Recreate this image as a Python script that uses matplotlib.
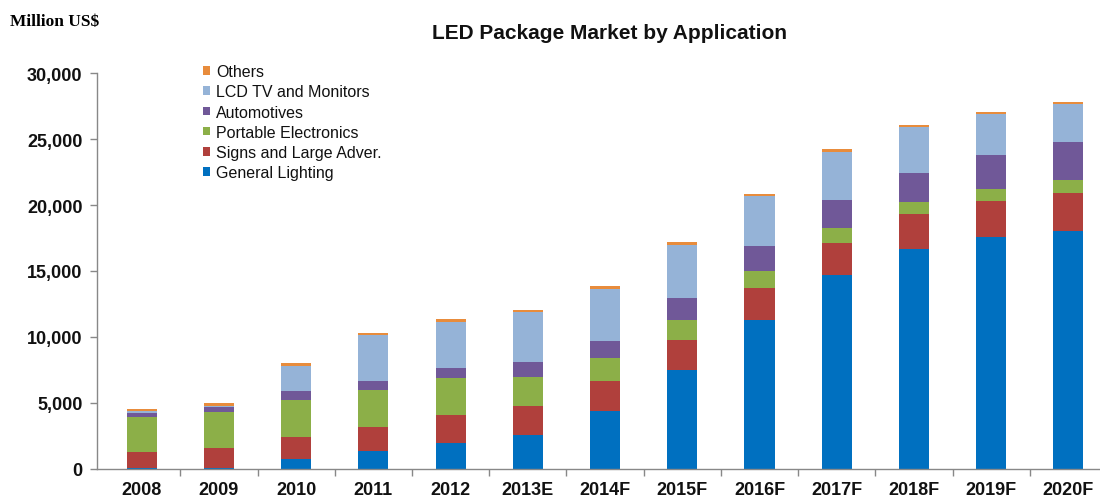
import numpy as np
import matplotlib.pyplot as plt
from matplotlib.patches import Patch
from matplotlib.ticker import FuncFormatter, FixedLocator

# LED package market by application, million US$
years = ['2008', '2009', '2010', '2011', '2012', '2013E', '2014F',
         '2015F', '2016F', '2017F', '2018F', '2019F', '2020F']
generalLighting = [80, 100, 760, 1390, 1970, 2580, 4370, 7520, 11310, 14720, 16670, 17550, 18010]
signsLargeAdver = [1220, 1470, 1690, 1770, 2120, 2170, 2320, 2280, 2380, 2400, 2650, 2730, 2900]
portableElectronics = [2660, 2770, 2800, 2790, 2780, 2190, 1740, 1490, 1280, 1140, 930, 930, 960]
automotives = [280, 330, 640, 680, 810, 1140, 1240, 1640, 1900, 2140, 2200, 2600, 2930]
lcdTvMonitors = [130, 100, 1940, 3490, 3480, 3790, 3970, 4040, 3790, 3590, 3430, 3080, 2850]
others = [150, 210, 200, 150, 180, 160, 200, 200, 200, 230, 200, 180, 180]

seriesNames = ['General Lighting', 'Signs and Large Adver.', 'Portable Electronics',
               'Automotives', 'LCD TV and Monitors', 'Others']
seriesValues = [generalLighting, signsLargeAdver, portableElectronics,
                automotives, lcdTvMonitors, others]
seriesColors = ['#0070c0', '#b0403c', '#8caf48', '#705898', '#95b3d7', '#e88c3c']

# layout constants (figure pixels, 1100 x 502)
figW, figH = 1100, 502
axLeft, axRight = 97, 1100
axBottom, axTop = 470, 74
barWidth = 0.39
tickColor = '#888888'

fig = plt.figure(figsize=(figW / 100, figH / 100), dpi=100)
ax = fig.add_axes([axLeft / figW, 1 - axBottom / figH,
                   (axRight - axLeft) / figW, (axBottom - axTop) / figH])

x = np.arange(len(years))
bottom = np.zeros(len(years))
for name, values, color in zip(seriesNames, seriesValues, seriesColors):
    ax.bar(x, values, barWidth, bottom=bottom, color=color, label=name, zorder=2)
    bottom += np.array(values)

ax.set_xlim(-0.58, 12.41)
ax.set_ylim(0, 30000)

for side in ['top', 'right']:
    ax.spines[side].set_visible(False)
for side in ['left', 'bottom']:
    ax.spines[side].set_color(tickColor)
    ax.spines[side].set_linewidth(1.0)

ax.set_yticks(np.arange(0, 30001, 5000))
ax.yaxis.set_major_formatter(FuncFormatter(lambda v, pos: f'{int(v):,}'))
ax.tick_params(axis='y', length=5, width=1, color=tickColor, pad=5.5,
               labelsize=13, labelcolor='#111111')

ax.set_xticks(x)
ax.set_xticklabels(years)
ax.xaxis.set_minor_locator(FixedLocator(x[:-1] + 0.5))
ax.tick_params(axis='x', which='major', length=0, pad=9, labelsize=13, labelcolor='#111111')
ax.tick_params(axis='x', which='minor', length=5, width=1, color=tickColor)

for label in ax.get_xticklabels() + ax.get_yticklabels():
    label.set_fontweight('bold')
    label.set_fontfamily('Liberation Sans')

handles = [Patch(facecolor=c, edgecolor='none') for c in seriesColors][::-1]
legend = fig.legend(handles, seriesNames[::-1], loc='upper left',
                    bbox_to_anchor=(203 / figW, 1 - 65 / figH), frameon=False,
                    handlelength=0.45, handleheight=0.45, handletextpad=0.35,
                    labelspacing=0.33, borderpad=0, borderaxespad=0,
                    prop={'family': 'Liberation Sans', 'size': 11.5})
for text in legend.get_texts():
    text.set_color('#111111')

fig.text(610 / figW, 1 - 34 / figH, 'LED Package Market by Application',
         ha='center', va='center', fontsize=15, fontweight='bold',
         family='Liberation Sans', color='#111111')
fig.text(10 / figW, 1 - 22 / figH, 'Million US$', ha='left', va='center',
         fontsize=12.5, fontweight='bold', family='Liberation Serif', color='black')

plt.savefig('out.png', dpi=100)
